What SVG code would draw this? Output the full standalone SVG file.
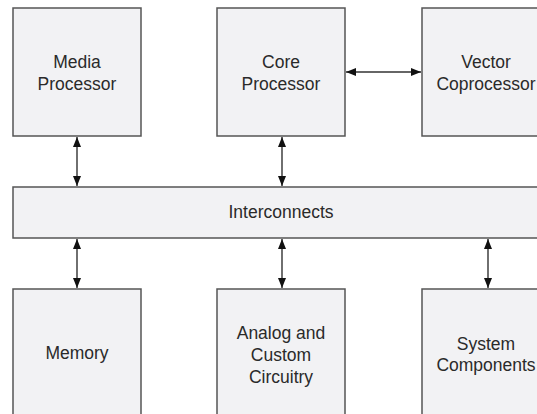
<svg xmlns="http://www.w3.org/2000/svg" width="537" height="414" viewBox="0 0 537 414">
<defs>
<style>
.box{fill:#f2f2f4;stroke:#555;stroke-width:1.5}
.t{font-family:"Liberation Sans",Arial,sans-serif;font-size:17.5px;fill:#2a2a2a;text-anchor:middle}
.c{stroke:#333;stroke-width:1.4;fill:none;marker-start:url(#a);marker-end:url(#a)}
</style>
<marker id="a" viewBox="0 0 10 8" refX="10" refY="4" markerWidth="10" markerHeight="8" markerUnits="userSpaceOnUse" orient="auto-start-reverse">
<path d="M0,0 L10,4 L0,8 Z" fill="#111"/>
</marker>
</defs>
<rect width="537" height="414" fill="#fff"/>
<g id="media"><rect class="box" x="13" y="8" width="128" height="128"/><text class="t" x="77" y="68">Media</text><text class="t" x="77" y="90">Processor</text></g>
<g id="core"><rect class="box" x="217" y="8" width="128" height="128"/><text class="t" x="281" y="68">Core</text><text class="t" x="281" y="90">Processor</text></g>
<g id="vector"><rect class="box" x="422" y="8" width="128" height="128"/><text class="t" x="486" y="68">Vector</text><text class="t" x="486" y="90">Coprocessor</text></g>
<g id="interconnects"><rect class="box" x="13" y="187" width="540" height="51"/><text class="t" x="281" y="218">Interconnects</text></g>
<g id="memory"><rect class="box" x="13" y="289" width="128" height="140"/><text class="t" x="77" y="359">Memory</text></g>
<g id="analog"><rect class="box" x="217" y="289" width="128" height="140"/><text class="t" x="281" y="339">Analog and</text><text class="t" x="281" y="361">Custom</text><text class="t" x="281" y="383">Circuitry</text></g>
<g id="system"><rect class="box" x="422" y="289" width="128" height="140"/><text class="t" x="486" y="350">System</text><text class="t" x="486" y="371">Components</text></g>
<g id="connectors">
<line class="c" x1="77" y1="137" x2="77" y2="186"/>
<line class="c" x1="282" y1="137" x2="282" y2="186"/>
<line class="c" x1="346" y1="72" x2="421" y2="72"/>
<line class="c" x1="77" y1="239" x2="77" y2="288"/>
<line class="c" x1="282" y1="239" x2="282" y2="288"/>
<line class="c" x1="488" y1="239" x2="488" y2="288"/>
</g>
</svg>
